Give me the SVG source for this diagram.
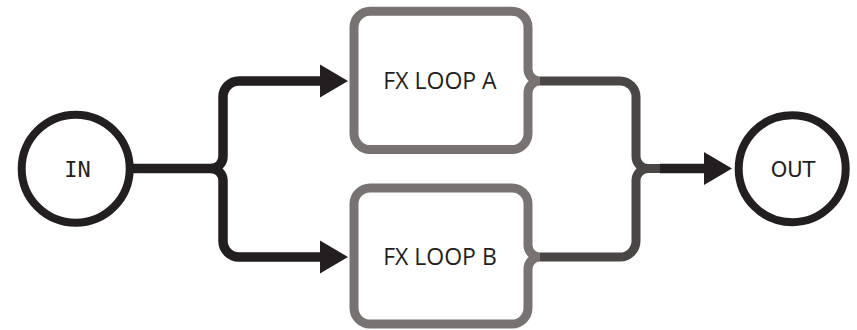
<svg xmlns="http://www.w3.org/2000/svg" width="857" height="330" viewBox="0 0 857 330">
<style>
.circ{fill:#fff;stroke:#231f20;stroke-width:8}
.box{fill:#fff;stroke:#787272;stroke-width:9}
.in{fill:none;stroke:#231f20;stroke-width:9.5}
.out{fill:none;stroke:#4a4646;stroke-width:9}
.lbl{font-family:"Open Sans","Liberation Sans",sans-serif;font-size:23px;fill:#231f20;text-anchor:middle}
.term{font-family:"DejaVu Sans",sans-serif;font-size:21px;fill:#231f20;text-anchor:middle}
</style>
<defs>
<marker id="ah" markerUnits="userSpaceOnUse" markerWidth="30" markerHeight="34" refX="2" refY="17" orient="auto" viewBox="0 0 30 34">
<path d="M0,0.5 L28,17 L0,33.5 Z" fill="#231f20"/>
</marker>
</defs>
<g id="connectors">
<path class="out" d="M540,81 H620 A16,16 0 0 1 636,97 V156.5 A12,12 0 0 0 648,168.5 H662"/>
<path class="out" d="M540,257 H620 A16,16 0 0 0 636,241 V180.5 A12,12 0 0 1 648,168.5"/>
<path class="in" d="M660,168.5 H706" marker-end="url(#ah)"/>
<path class="in" d="M133,168.5 H211 A12,12 0 0 0 223,156.5 V97 A16,16 0 0 1 239,81 H322" marker-end="url(#ah)"/>
<path class="in" d="M211,168.5 A12,12 0 0 1 223,180.5 V241 A16,16 0 0 0 239,257 H322" marker-end="url(#ah)"/>
</g>
<g id="in">
<circle class="circ" cx="75.7" cy="168.7" r="54"/>
<text x="77.5" y="176.5" class="term" style="font-family:'DejaVu Sans Mono',monospace;font-size:22px">IN</text>
</g>
<g id="fxa">
<path class="box" d="M370,11.3 H512 A16,16 0 0 1 528,27.3 V69 A12,12 0 0 0 540,81 A12,12 0 0 0 528,93 V133.5 A16,16 0 0 1 512,149.5 H370 A16,16 0 0 1 354,133.5 V27.3 A16,16 0 0 1 370,11.3 Z"/>
<text x="440" y="88.8" class="lbl">FX LOOP A</text>
</g>
<g id="fxb">
<path class="box" d="M370,188 H512 A16,16 0 0 1 528,204 V245 A12,12 0 0 0 540,257 A12,12 0 0 0 528,269 V308 A16,16 0 0 1 512,324 H370 A16,16 0 0 1 354,308 V204 A16,16 0 0 1 370,188 Z"/>
<text x="440" y="265.3" class="lbl">FX LOOP B</text>
</g>
<g id="out">
<circle class="circ" cx="792.2" cy="168.7" r="53.5"/>
<text x="793" y="176.5" class="term">OUT</text>
</g>
</svg>
